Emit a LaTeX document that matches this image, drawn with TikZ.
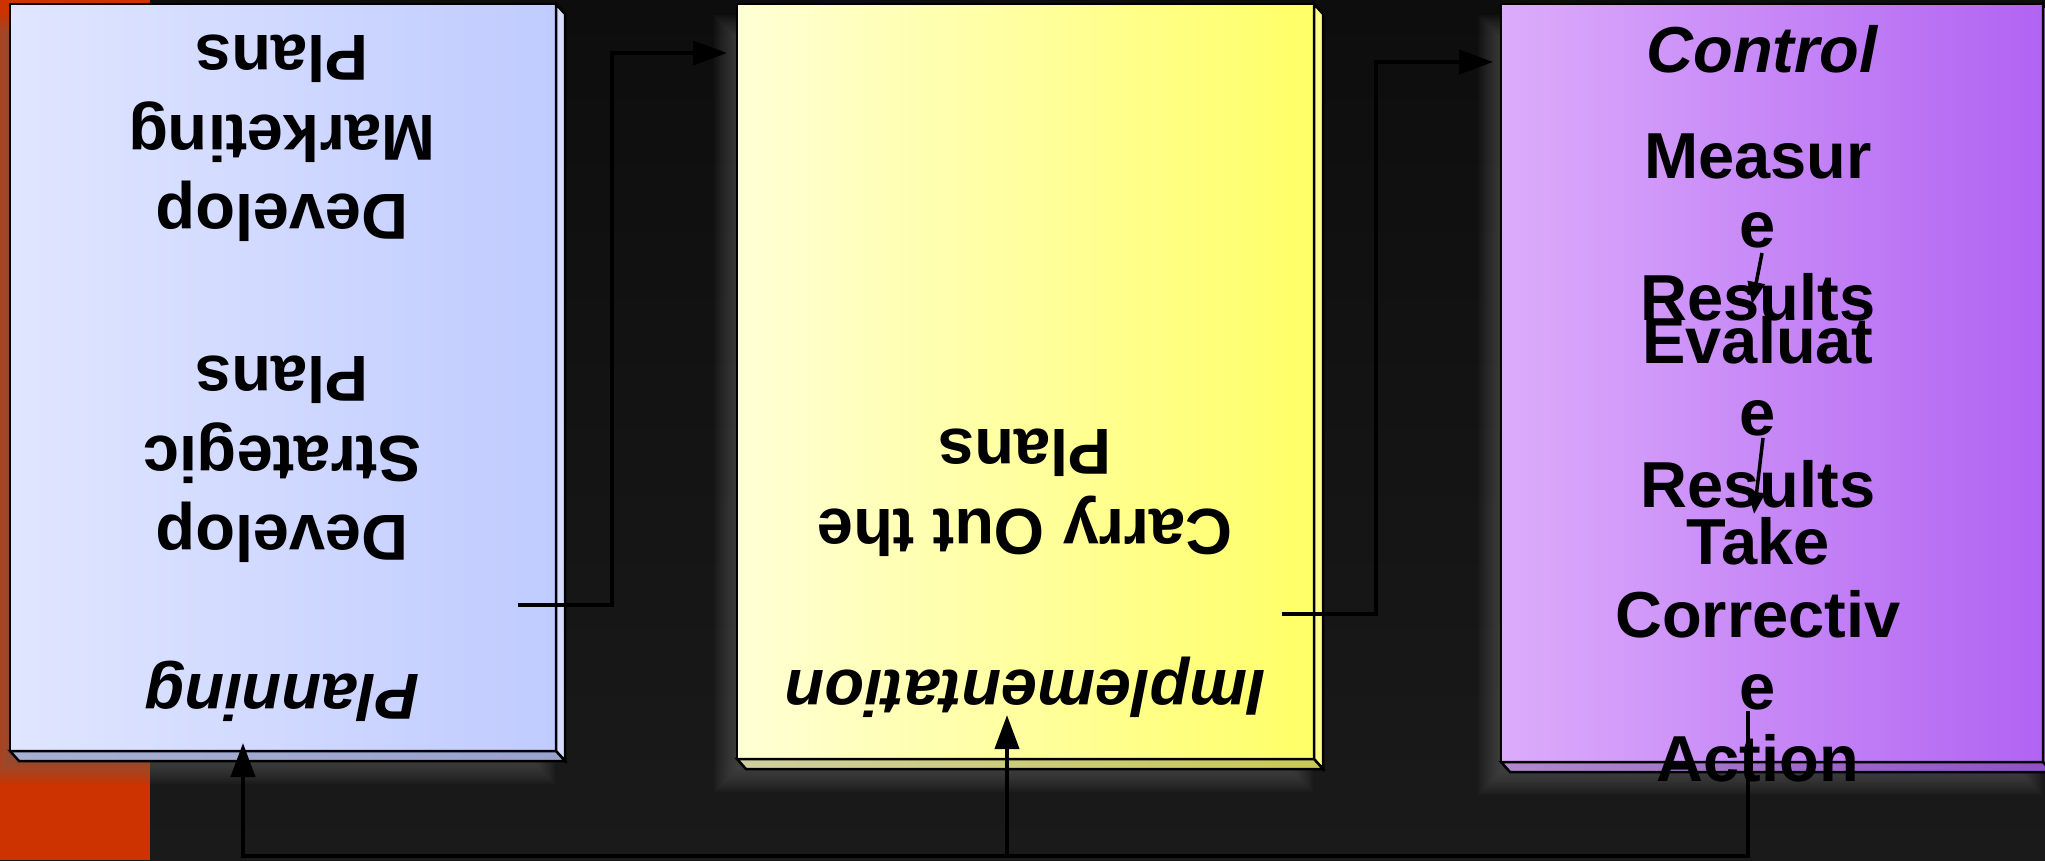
\documentclass[tikz,border=0pt]{standalone}
\usepackage{fontspec}
\setmainfont{Liberation Sans}
\usetikzlibrary{arrows.meta,calc}

% palette
\definecolor{bgtop}{HTML}{0D0D0D}
\definecolor{bgbot}{HTML}{1A1A1A}
\definecolor{rust}{HTML}{CC3300}
\definecolor{glowc}{HTML}{6A6A6A}
\definecolor{plL}{HTML}{E0E6FF}
\definecolor{plR}{HTML}{C0CBFF}
\definecolor{plSide}{HTML}{D6DDFF}
\definecolor{plBotL}{HTML}{A8AFD2}
\definecolor{plBotR}{HTML}{99A2CC}
\definecolor{imL}{HTML}{FFFFD6}
\definecolor{imR}{HTML}{FFFF66}
\definecolor{imSide}{HTML}{FFFF88}
\definecolor{imBotL}{HTML}{CECEA2}
\definecolor{imBotR}{HTML}{C9C955}
\definecolor{ctL}{HTML}{DCACFB}
\definecolor{ctR}{HTML}{B163F2}
\definecolor{ctSide}{HTML}{B98AE0}
\definecolor{ctBotL}{HTML}{B08ACC}
\definecolor{ctBotR}{HTML}{9150C6}

\pgfdeclarelayer{backdrop}
\pgfdeclarelayer{glow}
\pgfsetlayers{backdrop,glow,main}

% soft halo cast down and to the left of a box
\newcommand\castglow[1]{%
  \begin{pgfonlayer}{glow}
    \foreach \k in {0,...,11}{
      \pgfmathsetmacro\ee{11-2*\k}
      \fill[glowc, fill opacity=0.055]
        ($(#1.north west)+(-12-\ee,22-\ee)$) rectangle ($(#1.south east)+(-12+\ee,22+\ee)$);
    }
  \end{pgfonlayer}}

% bevelled side and bottom of a slab
\newcommand\slabedges[4]{%
  \draw[edge, fill=#2] (#1.north east) -- ++(9,10) -- ($(#1.south east)+(9,10)$) -- (#1.south east) -- cycle;
  \draw[edge, left color=#3, right color=#4] (#1.south west) -- ++(9,10) -- ($(#1.south east)+(9,10)$) -- (#1.south east) -- cycle;}

\tikzset{
  edge/.style={draw=black, line width=2.5pt, line join=miter},
  face/.style={edge, rectangle, inner sep=0pt, outer sep=0pt},
  link/.style={draw=black, line width=4pt, line join=miter,
    -{Triangle[length=34pt,width=24pt]}},
  minilink/.style={draw=black, line width=3.5pt,
    -{Triangle[length=22pt,width=17pt]}},
  lbl/.style={font=\bfseries\fontsize{65}{78}\selectfont, text=black,
    inner sep=0pt, anchor=base},
  lbli/.style={lbl, font=\bfseries\itshape\fontsize{65}{78}\selectfont},
  flip/.style={rotate=180}
}

\begin{document}
\begin{tikzpicture}[x=1pt,y=-1pt]
\useasboundingbox (0,0) rectangle (2045,860);
\clip (0,0) rectangle (2045,860);

\begin{pgfonlayer}{backdrop}
  \shade[top color=bgtop, bottom color=bgbot] (0,0) rectangle (2045,860);
  \fill[rust] (0,0) rectangle (150,860);
\end{pgfonlayer}

% the three stage slabs
\node[face, left color=plL, right color=plR, minimum width=546pt, minimum height=747pt] (plan) at (283,377.5) {};
\node[face, left color=imL, right color=imR, minimum width=577pt, minimum height=755pt] (impl) at (1025.5,381.5) {};
\node[face, left color=ctL, right color=ctR, minimum width=542pt, minimum height=758pt] (ctl) at (1772,383) {};

\castglow{plan}
\castglow{impl}
\castglow{ctl}

\slabedges{plan}{plSide}{plBotL}{plBotR}
\slabedges{impl}{imSide}{imBotL}{imBotR}
\slabedges{ctl}{ctSide}{ctBotL}{ctBotR}

% connector end points
\coordinate (pl-exit) at (518,605);
\coordinate (im-entry) at (727,53);
\coordinate (im-exit) at (1282,614);
\coordinate (ct-entry) at (1493,62);
\coordinate (ct-exit) at (1748,711);
\coordinate (fb-base) at (0,856);
\coordinate (pl-return) at (243,743);
\coordinate (im-return) at (1007,715);
\coordinate (ms-from) at (1762,253);
\coordinate (ms-to) at (1752,304);
\coordinate (ev-from) at (1763,438);
\coordinate (ev-to) at (1754,514);

% forward flow
\draw[link] (pl-exit) -- ++(94,0) |- (im-entry);
\draw[link] (im-exit) -- ++(94,0) |- (ct-entry);

% feedback loop
\draw[link] (ct-exit) -- (ct-exit |- fb-base) -| (pl-return);
\draw[link] (im-return |- fb-base) -- (im-return);

% steps inside control
\draw[minilink] (ms-from) -- (ms-to);
\draw[minilink] (ev-from) -- (ev-to);

% planning labels
\node[lbl, flip] (pl-m3) at (282,35) {Plans};
\node[lbl, flip] (pl-m2) at (282,115) {Marketing};
\node[lbl, flip] (pl-m1) at (282,194) {Develop};
\node[lbl, flip] (pl-s3) at (282,356) {Plans};
\node[lbl, flip] (pl-s2) at (282,436) {Strategic};
\node[lbl, flip] (pl-s1) at (282,515) {Develop};
\node[lbli, flip] (pl-title) at (282,674) {Planning};

% implementation labels
\node[lbl, flip] (im-c2) at (1025,429) {Plans};
\node[lbl, flip] (im-c1) at (1025,509) {Carry Out the};
\node[lbli, flip] (im-title) at (1025,670) {Implementation};

% control labels
\node[lbli] (ct-title) at (1762,72) {Control};
\node[lbl] (ct-m1) at (1758,178) {Measur};
\node[lbl] (ct-m2) at (1758,247) {e};
\node[lbl] (ct-m3) at (1758,320) {Results};
\node[lbl] (ct-e1) at (1758,363) {Evaluat};
\node[lbl] (ct-e2) at (1758,435) {e};
\node[lbl] (ct-e3) at (1758,507) {Results};
\node[lbl] (ct-t1) at (1758,564) {Take};
\node[lbl] (ct-t2) at (1758,637) {Correctiv};
\node[lbl] (ct-t3) at (1758,709) {e};
\node[lbl] (ct-t4) at (1758,781) {Action};
\end{tikzpicture}
\end{document}
